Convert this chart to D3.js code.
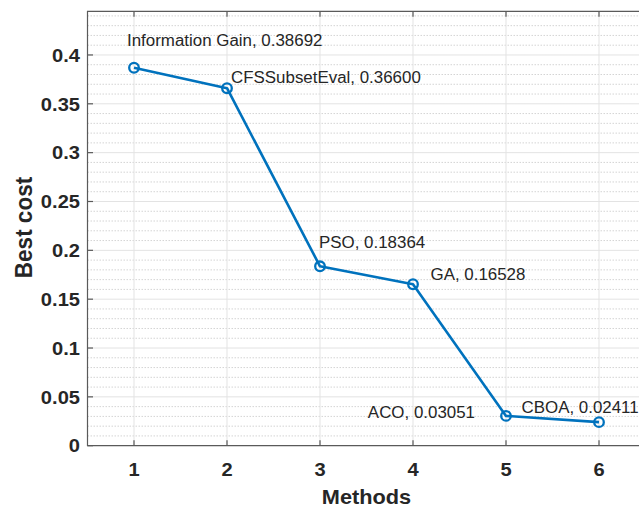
<!DOCTYPE html>
<html>
<head>
<meta charset="utf-8">
<script src="https://cdn.jsdelivr.net/npm/d3@7"></script>
<style>
  html, body { margin: 0; padding: 0; background: #fff; }
  svg { display: block; }
  text { font-family: "Liberation Sans", Arial, Helvetica, sans-serif; fill: #262626; }
</style>
</head>
<body>
<svg id="chart" width="639" height="510"></svg>
<script>
// Best cost reached by each feature-selection method
const methods = ["Information Gain", "CFSSubsetEval", "PSO", "GA", "ACO", "CBOA"];
const methodIndex = [1, 2, 3, 4, 5, 6];
const bestCost = [0.38692, 0.36600, 0.18364, 0.16528, 0.03051, 0.02411];

const xTicks = [1, 2, 3, 4, 5, 6];
const yTicks = [0, 0.05, 0.1, 0.15, 0.2, 0.25, 0.3, 0.35, 0.4];
const yTickLabels = ["0", "0.05", "0.1", "0.15", "0.2", "0.25", "0.3", "0.35", "0.4"];

// annotation placement relative to each marker (px): anchor, dx, baseline dy
const labelPlacement = [
  { anchor: "start", dx: -7,   dy: -22 },
  { anchor: "start", dx: 4,    dy: -5.5 },
  { anchor: "start", dx: -1,   dy: -18 },
  { anchor: "start", dx: 17.5, dy: -4.3 },
  { anchor: "end",   dx: -31,  dy: 2 },
  { anchor: "start", dx: -77.5, dy: -9.5 }
];

const blue = "#0072BD";
const stretch = 1.07; // horizontal glyph aspect of the typeface

const svg = d3.select("#chart");

const x = d3.scaleLinear().domain([0.5, 6.5]).range([87.5, 645.5]);
const y = d3.scaleLinear().domain([0, 0.4447]).range([445.7, 11.3]);

const [x0, x1] = x.range();
const [yb, yt] = y.range();

// minor grid (dotted, every 0.01)
const minor = d3.range(1, 45).map(d => d / 100).filter(v => v < y.domain()[1] && Math.round(v * 100) % 5 !== 0);
svg.append("g")
  .selectAll("line").data(minor).join("line")
  .attr("x1", x0).attr("x2", x1)
  .attr("y1", d => y(d)).attr("y2", d => y(d))
  .attr("stroke", "#d4d4d4").attr("stroke-width", 1)
  .attr("stroke-dasharray", "1.5 1.5");

// major grid
const grid = svg.append("g").attr("stroke", "#e3e3e3").attr("stroke-width", 1);
grid.selectAll("line.gy").data(yTicks.slice(1)).join("line")
  .attr("class", "gy")
  .attr("x1", x0).attr("x2", x1)
  .attr("y1", d => y(d)).attr("y2", d => y(d));
grid.selectAll("line.gx").data(xTicks).join("line")
  .attr("class", "gx")
  .attr("x1", d => x(d)).attr("x2", d => x(d))
  .attr("y1", yb).attr("y2", yt);

// axes box and inward ticks
const axisColor = "#5a5a5a";
const axes = svg.append("g").attr("stroke", axisColor).attr("stroke-width", 1.2).attr("fill", "none");
axes.append("path").attr("d", `M${x1},${yt}H${x0}V${yb}H${x1}`);
const tickLen = 5.5;
axes.selectAll("line.ty").data(yTicks).join("line")
  .attr("class", "ty")
  .attr("x1", x0).attr("x2", x0 + tickLen)
  .attr("y1", d => y(d)).attr("y2", d => y(d));
axes.selectAll("line.tb").data(xTicks).join("line")
  .attr("class", "tb")
  .attr("x1", d => x(d)).attr("x2", d => x(d))
  .attr("y1", yb).attr("y2", yb - tickLen);
axes.selectAll("line.tt").data(xTicks).join("line")
  .attr("class", "tt")
  .attr("x1", d => x(d)).attr("x2", d => x(d))
  .attr("y1", yt).attr("y2", yt + tickLen);

// text helper: horizontally stretched glyphs anchored at (px, py)
function placeText(sel, px, py, extra) {
  sel.attr("transform", `translate(${px},${py}) scale(${stretch},1)${extra || ""}`)
     .attr("x", 0).attr("y", 0);
  return sel;
}

// y tick labels
const tickFont = 18.8;
yTicks.forEach((v, i) => {
  placeText(svg.append("text"), 80, y(v) + tickFont * 0.36)
    .attr("text-anchor", "end")
    .attr("font-size", tickFont).attr("font-weight", "bold")
    .text(yTickLabels[i]);
});

// x tick labels
xTicks.forEach(v => {
  placeText(svg.append("text"), x(v), 475.7)
    .attr("text-anchor", "middle")
    .attr("font-size", tickFont).attr("font-weight", "bold")
    .text(String(v));
});

// axis titles
placeText(svg.append("text"), (x0 + x1) / 2, 504)
  .attr("text-anchor", "middle")
  .attr("font-size", 20.3).attr("font-weight", "bold")
  .text("Methods");

placeText(svg.append("text"), 31.7, 227.5, " rotate(-90)")
  .attr("text-anchor", "middle")
  .attr("font-size", 22.5).attr("font-weight", "bold")
  .text("Best cost");

// series line and markers
const pts = methodIndex.map((m, i) => [m, bestCost[i]]);
svg.append("path")
  .datum(pts)
  .attr("fill", "none")
  .attr("stroke", blue)
  .attr("stroke-width", 2.6)
  .attr("stroke-linejoin", "round")
  .attr("d", d3.line().x(d => x(d[0])).y(d => y(d[1])));

svg.append("g")
  .selectAll("circle").data(pts).join("circle")
  .attr("cx", d => x(d[0])).attr("cy", d => y(d[1]))
  .attr("r", 4.8)
  .attr("fill", "none")
  .attr("stroke", blue)
  .attr("stroke-width", 2.3);

// value annotations
pts.forEach((d, i) => {
  const p = labelPlacement[i];
  placeText(svg.append("text"), x(d[0]) + p.dx, y(d[1]) + p.dy)
    .attr("text-anchor", p.anchor)
    .attr("font-size", 15.8)
    .attr("fill", "#1a1a1a")
    .text(`${methods[i]}, ${d[1].toFixed(5)}`);
});
</script>
</body>
</html>
